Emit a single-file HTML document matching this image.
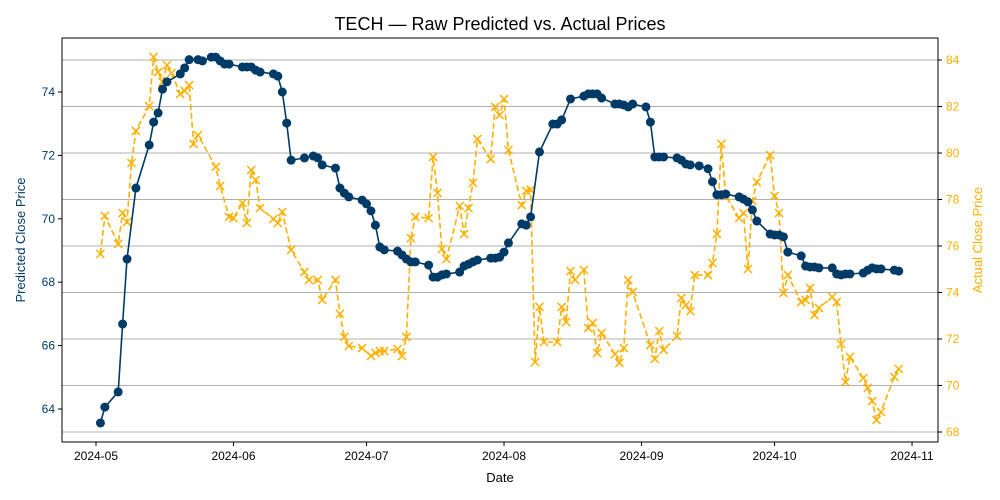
<!DOCTYPE html>
<html><head><meta charset="utf-8"><style>
body{margin:0;background:#fff;}
svg{display:block;font-family:"Liberation Sans",sans-serif;}
</style></head><body>
<svg id="chart" width="1000" height="500" viewBox="0 0 1000 500">
<rect width="1000" height="500" fill="#fff"/>
<text x="500" y="30" text-anchor="middle" font-size="18" fill="#000">TECH — Raw Predicted vs. Actual Prices</text>
<g id="grid"></g><g id="axes"></g><g id="series"></g>
<text x="500" y="482" text-anchor="middle" font-size="13">Date</text>
<text transform="translate(25,240) rotate(-90)" text-anchor="middle" font-size="13" fill="#003a66">Predicted Close Price</text>
<text transform="translate(982,240) rotate(-90)" text-anchor="middle" font-size="13" fill="#ffb000">Actual Close Price</text>
</svg>
<script>
// days since 2024-05-01
const predDays=[1,2,5,6,7,9,12,13,14,15,16,19,20,21,23,24,26,27,28,29,30,33,34,35,36,37,40,41,42,43,44,47,49,50,51,54,55,56,57,60,61,62,63,64,65,68,69,70,71,72,75,76,77,78,79,82,83,84,85,86,89,90,91,92,93,96,97,98,100,103,104,105,107,110,111,112,113,114,117,118,119,120,121,124,125,126,127,128,131,132,133,134,136,138,139,140,141,142,145,146,147,148,149,152,153,154,155,156,159,160,161,162,163,166,167,168,169,170,173,174,175,176,177,180,181];
const predVals=[63.56,64.06,64.54,66.68,68.73,70.97,72.33,73.05,73.34,74.09,74.32,74.57,74.76,75.02,75.02,74.98,75.10,75.10,74.98,74.88,74.88,74.79,74.79,74.79,74.69,74.63,74.57,74.50,74.00,73.02,71.85,71.92,71.98,71.92,71.70,71.60,70.97,70.81,70.69,70.59,70.47,70.25,69.80,69.11,69.02,68.98,68.86,68.73,68.64,68.64,68.54,68.16,68.16,68.23,68.26,68.32,68.51,68.57,68.64,68.70,68.76,68.76,68.79,68.95,69.24,69.84,69.80,70.06,72.11,72.99,72.99,73.12,73.78,73.87,73.94,73.94,73.94,73.81,73.62,73.62,73.59,73.53,73.62,73.53,73.05,71.95,71.95,71.95,71.92,71.85,71.73,71.70,71.67,71.58,71.17,70.76,70.76,70.78,70.69,70.62,70.53,70.28,69.93,69.52,69.49,69.49,69.43,68.95,68.83,68.51,68.48,68.48,68.45,68.45,68.26,68.23,68.26,68.26,68.29,68.38,68.45,68.42,68.42,68.38,68.35];
const actDays=[1,2,5,6,7,8,9,12,13,14,15,16,17,19,20,21,22,23,27,28,30,31,33,34,35,36,37,40,41,42,44,47,48,50,51,54,55,56,57,60,62,63,64,65,68,69,70,71,72,75,76,77,78,79,82,83,84,85,86,89,90,91,92,93,96,97,98,99,100,101,104,105,106,107,108,110,111,112,113,114,117,118,119,120,121,125,126,127,128,131,132,133,134,135,138,139,140,141,142,145,146,147,148,149,152,153,154,155,156,159,160,161,162,163,166,167,168,169,170,173,174,175,176,177,180,181];
const actVals=[75.66,77.29,76.09,77.42,77.03,79.57,80.95,82.02,84.13,83.48,83.05,83.78,83.44,82.54,82.67,82.92,80.39,80.77,79.40,78.58,77.25,77.20,77.85,76.99,79.27,78.84,77.63,77.16,76.99,77.46,75.83,74.88,74.54,74.54,73.68,74.54,73.08,72.09,71.70,71.61,71.27,71.40,71.48,71.48,71.57,71.27,72.09,76.34,77.25,77.20,79.83,78.28,75.87,75.44,77.72,76.52,77.63,78.71,80.60,79.74,81.98,81.63,82.32,80.13,77.76,78.37,78.41,71.01,73.38,71.87,71.87,73.38,72.73,74.92,74.54,74.97,72.47,72.69,71.40,72.26,71.35,70.97,71.61,74.54,74.02,71.74,71.14,72.34,71.53,72.13,73.76,73.46,73.20,74.75,74.75,75.27,76.52,80.39,78.15,77.20,77.42,75.01,77.94,78.75,79.91,78.15,77.42,73.98,74.75,73.59,73.68,74.19,73.03,73.33,73.81,73.59,71.78,70.15,71.23,70.32,69.89,69.33,68.52,68.86,70.37,70.71];
const xTickDays=[0,31,61,92,123,153,184];
const xTickLabels=["2024-05","2024-06","2024-07","2024-08","2024-09","2024-10","2024-11"];
const leftTicks=[64,66,68,70,72,74];
const rightTicks=[68,70,72,74,76,78,80,82,84];

const NS="http://www.w3.org/2000/svg";
const L=62,R=938,T=38,B=442;
const xs=d=>96+d*4.435;
const yl=v=>409-(v-64)*31.7;
const yr=v=>432-(v-68)*23.25;
function mk(tag,attrs,parent){const e=document.createElementNS(NS,tag);for(const k in attrs)e.setAttribute(k,attrs[k]);parent.appendChild(e);return e;}
const grid=document.getElementById('grid'),axes=document.getElementById('axes'),ser=document.getElementById('series');
rightTicks.forEach(v=>{
  const g=mk('line',{x1:L,x2:R,y1:yr(v),y2:yr(v),stroke:'#b0b0b0','stroke-width':1},grid);
  
  
  mk('line',{x1:R,x2:R+4,y1:yr(v),y2:yr(v),stroke:'#000'},axes);
  const t=mk('text',{x:R+8,y:yr(v)+4,'font-size':12,fill:'#ffb000'},axes);
  t.textContent=v;
  
  
});
leftTicks.forEach(v=>{
  mk('line',{x1:L-4,x2:L,y1:yl(v),y2:yl(v),stroke:'#000'},axes);
  const t=mk('text',{x:L-7,y:yl(v)+4,'font-size':12,fill:'#003a66','text-anchor':'end'},axes);
  t.textContent=v;
  
  
});
xTickDays.forEach((d,i)=>{
  mk('line',{x1:xs(d),x2:xs(d),y1:B,y2:B+4,stroke:'#000'},axes);
  const t=mk('text',{x:xs(d),y:B+18,'font-size':12,'text-anchor':'middle'},axes);
  t.textContent=xTickLabels[i];
  
  
});
const frame=mk('rect',{x:L,y:T,width:R-L,height:B-T,fill:'none',stroke:'#000','stroke-width':1},axes);



const ap=actDays.map((d,i)=>xs(d).toFixed(1)+','+yr(actVals[i]).toFixed(1)).join(' ');
const al=mk('polyline',{points:ap,fill:'none',stroke:'#ffb000','stroke-width':1.6,'stroke-dasharray':'6,3'},ser);


actDays.forEach((d,i)=>{
  const x=xs(d),y=yr(actVals[i]),s=4;
  const m=mk('path',{d:`M${x-s},${y-s}L${x+s},${y+s}M${x-s},${y+s}L${x+s},${y-s}`,stroke:'#ffb000','stroke-width':1.5},ser);
  
  
});
const pp=predDays.map((d,i)=>xs(d).toFixed(1)+','+yl(predVals[i]).toFixed(1)).join(' ');
const pl=mk('polyline',{points:pp,fill:'none',stroke:'#003a66','stroke-width':1.6},ser);


predDays.forEach((d,i)=>{
  const c=mk('circle',{cx:xs(d),cy:yl(predVals[i]),r:4.5,fill:'#003a66'},ser);
  
  
});
</script>
</body></html>
